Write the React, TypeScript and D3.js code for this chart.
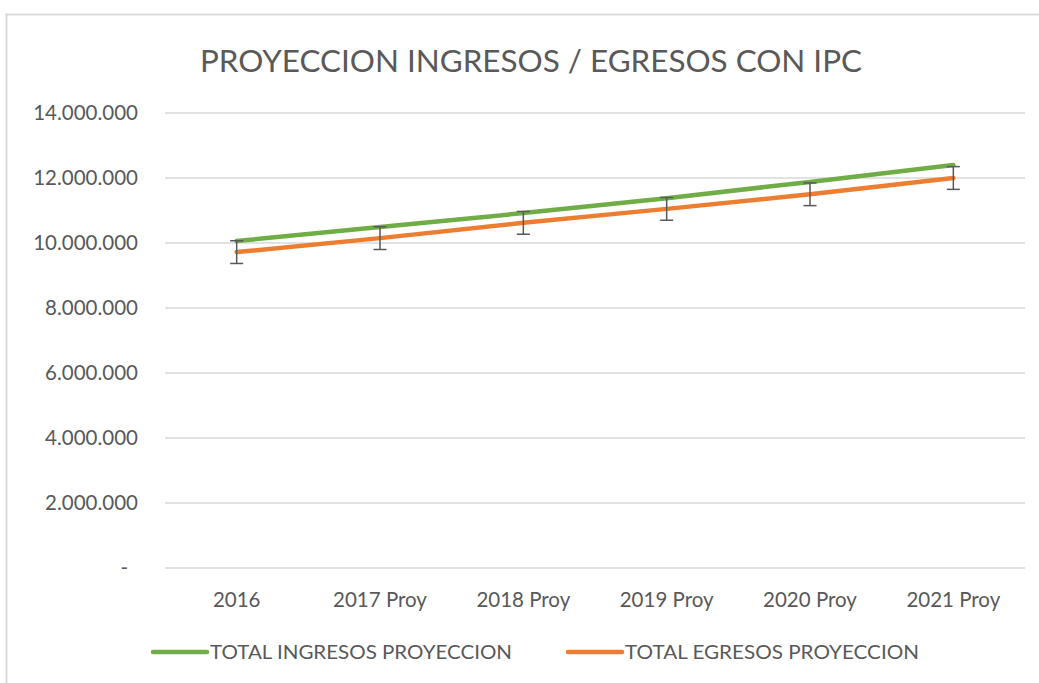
import { useEffect, useRef } from 'react';
import * as d3 from 'd3';

const categories = ['2016', '2017 Proy', '2018 Proy', '2019 Proy', '2020 Proy', '2021 Proy'];
const ingresos = [10060000, 10490000, 10920000, 11380000, 11880000, 12400000];
const egresos = [9720000, 10150000, 10620000, 11050000, 11500000, 12000000];
const egresosError = 350000;
const yTicks = [0, 2000000, 4000000, 6000000, 8000000, 10000000, 12000000, 14000000];
const seriesNames = ['TOTAL INGRESOS PROYECCION', 'TOTAL EGRESOS PROYECCION'];
const seriesColors = ['#70AD47', '#ED7D31'];

const FONT = 'Lato, "Open Sans", sans-serif';
const TEXT_COLOR = '#595959';

const App = () => {
  const svgRef = useRef<SVGSVGElement>(null);

  useEffect(() => {
    if (!svgRef.current) return;
    const svg = d3.select(svgRef.current);
    svg.selectAll('*').remove();

    const width = 1039;
    const height = 683;
    const plot = { left: 165, right: 1025, top: 113, bottom: 568 };

    // chart area border
    svg.append('rect')
      .attr('x', 6.5).attr('y', 14.5)
      .attr('width', width + 20).attr('height', height + 20)
      .attr('fill', '#fff')
      .attr('stroke', '#d9d9d9')
      .attr('stroke-width', 2);

    const x = d3.scaleBand<string>().domain(categories).range([plot.left, plot.right]);
    const cx = (c: string) => (x(c) ?? 0) + x.bandwidth() / 2;
    const y = d3.scaleLinear().domain([0, 14000000]).range([plot.bottom, plot.top]);

    const locale = d3.formatLocale({ decimal: ',', thousands: '.', grouping: [3], currency: ['$', ''] });
    const fmt = locale.format(',d');

    // title
    svg.append('text')
      .attr('x', 531).attr('y', 72)
      .attr('text-anchor', 'middle')
      .attr('font-family', FONT)
      .attr('font-size', 30)
      .attr('fill', TEXT_COLOR)
      .attr('textLength', 662)
      .attr('lengthAdjust', 'spacingAndGlyphs')
      .text('PROYECCION INGRESOS / EGRESOS CON IPC');

    // gridlines
    svg.append('g').selectAll('line')
      .data(yTicks)
      .join('line')
      .attr('x1', plot.left).attr('x2', plot.right)
      .attr('y1', d => y(d)).attr('y2', d => y(d))
      .attr('stroke', '#d9d9d9')
      .attr('stroke-width', 1.3);

    // y labels
    svg.append('g').selectAll('text')
      .data(yTicks)
      .join('text')
      .attr('x', d => (d === 0 ? 128 : 138))
      .attr('y', d => y(d))
      .attr('dy', '0.35em')
      .attr('text-anchor', 'end')
      .attr('font-family', FONT)
      .attr('font-size', 20.5)
      .attr('fill', TEXT_COLOR)
      .text(d => (d === 0 ? '-' : fmt(d)));

    // x labels
    svg.append('g').selectAll('text')
      .data(categories)
      .join('text')
      .attr('x', d => cx(d))
      .attr('y', 607)
      .attr('text-anchor', 'middle')
      .attr('font-family', FONT)
      .attr('font-size', 20.5)
      .attr('fill', TEXT_COLOR)
      .text(d => d);

    const line = d3.line<number>()
      .x((_, i) => cx(categories[i]))
      .y(d => y(d));

    [ingresos, egresos].forEach((vals, i) => {
      svg.append('path')
        .datum(vals)
        .attr('d', line)
        .attr('fill', 'none')
        .attr('stroke', seriesColors[i])
        .attr('stroke-width', 4.5)
        .attr('stroke-linecap', 'round');
    });

    // error bars on egresos
    const eb = svg.append('g')
      .attr('stroke', '#595959')
      .attr('stroke-width', 1.5);
    egresos.forEach((v, i) => {
      const px = cx(categories[i]);
      const y0 = y(v - egresosError);
      const y1 = y(v + egresosError);
      eb.append('line').attr('x1', px).attr('x2', px).attr('y1', y0).attr('y2', y1);
      eb.append('line').attr('x1', px - 6.5).attr('x2', px + 6.5).attr('y1', y0).attr('y2', y0);
      eb.append('line').attr('x1', px - 6.5).attr('x2', px + 6.5).attr('y1', y1).attr('y2', y1);
    });

    // legend
    const legendX = [153, 568];
    seriesNames.forEach((name, i) => {
      const g = svg.append('g').attr('transform', `translate(${legendX[i]},652)`);
      g.append('line')
        .attr('x1', 0).attr('x2', 54)
        .attr('y1', 0).attr('y2', 0)
        .attr('stroke', seriesColors[i])
        .attr('stroke-width', 4.5)
        .attr('stroke-linecap', 'round');
      g.append('text')
        .attr('x', 57).attr('y', 0)
        .attr('dy', '0.35em')
        .attr('font-family', FONT)
        .attr('font-size', 19)
        .attr('fill', TEXT_COLOR)
        .attr('textLength', i === 0 ? 302 : 294)
        .attr('lengthAdjust', 'spacingAndGlyphs')
        .text(name);
    });
  }, []);

  return (
    <div style={{ position: 'absolute', left: 0, top: 0, width: 1039, height: 683, overflow: 'hidden' }}>
      <svg ref={svgRef} width={1039} height={683} style={{ display: 'block' }}></svg>
    </div>
  );
};

export default App;
